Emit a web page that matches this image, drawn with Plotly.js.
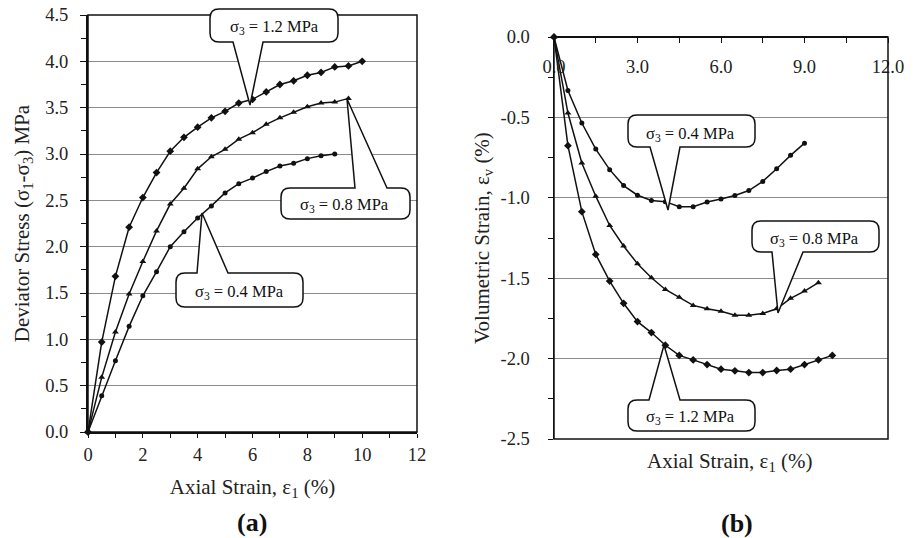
<!DOCTYPE html>
<html>
<head>
<meta charset="utf-8">
<script src="https://cdn.plot.ly/plotly-3.0.1.min.js"></script>
<style>html,body{margin:0;padding:0;background:#fff}#chart{width:916px;height:538px}</style>
</head>
<body>
<div id="chart"></div>
<script>
// ---- data ----
const strain12 = [0,0.5,1,1.5,2,2.5,3,3.5,4,4.5,5,5.5,6,6.5,7,7.5,8,8.5,9,9.5,10];
const strain08 = [0,0.5,1,1.5,2,2.5,3,3.5,4,4.5,5,5.5,6,6.5,7,7.5,8,8.5,9,9.5];
const strain04 = [0,0.5,1,1.5,2,2.5,3,3.5,4,4.5,5,5.5,6,6.5,7,7.5,8,8.5,9];

const dev12 = [0,0.97,1.68,2.21,2.53,2.80,3.03,3.18,3.29,3.39,3.46,3.55,3.59,3.67,3.75,3.79,3.85,3.88,3.94,3.95,4.00];
const dev08 = [0,0.59,1.08,1.49,1.84,2.17,2.46,2.63,2.84,2.97,3.05,3.16,3.23,3.32,3.39,3.45,3.51,3.55,3.56,3.60];
const dev04 = [0,0.39,0.77,1.14,1.47,1.73,2.00,2.16,2.31,2.44,2.58,2.68,2.74,2.81,2.87,2.90,2.95,2.98,3.00];

const vol12 = [0,-0.676,-1.086,-1.352,-1.518,-1.656,-1.77,-1.838,-1.917,-1.98,-2.008,-2.037,-2.066,-2.076,-2.087,-2.087,-2.074,-2.066,-2.037,-2.008,-1.98];
const vol08 = [0,-0.473,-0.784,-0.99,-1.172,-1.30,-1.41,-1.497,-1.57,-1.619,-1.669,-1.69,-1.706,-1.731,-1.731,-1.72,-1.69,-1.625,-1.58,-1.528];
const vol04 = [0,-0.333,-0.535,-0.697,-0.825,-0.924,-0.984,-1.017,-1.024,-1.055,-1.055,-1.026,-1.007,-0.986,-0.955,-0.898,-0.819,-0.736,-0.660];

const devTickVals = [0,0.5,1,1.5,2,2.5,3,3.5,4,4.5];
const devTickText = ['0.0','0.5','1.0','1.5','2.0','2.5','3.0','3.5','4.0','4.5'];
const volTickVals = [-2.5,-2,-1.5,-1,-0.5,0];
const volTickText = ['-2.5','-2.0','-1.5','-1.0','-0.5','0.0'];
const strainTickText = ['0.0','3.0','6.0','9.0','12.0'];
const strainTickVals = [0,3,6,9,12];

const lab12 = 'σ<sub>3</sub> = 1.2 MPa';
const lab08 = 'σ<sub>3</sub> = 0.8 MPa';
const lab04 = 'σ<sub>3</sub> = 0.4 MPa';

// ---- helpers ----
const W = 916, H = 538;
const px = x => x / W;
const py = y => 1 - y / H;
const SERIF = 'Liberation Serif, Times New Roman, serif';

function P(x, y) { return px(x).toFixed(5) + ',' + py(y).toFixed(5); }
function callout(b, side, base, tip, r) {
  const [x0, y0, x1, y1] = b;
  let s = 'M' + P(x0 + r, y0);
  if (side === 'top') s += 'L' + P(base[0], y0) + 'L' + P(tip[0], tip[1]) + 'L' + P(base[1], y0);
  s += 'L' + P(x1 - r, y0) + 'Q' + P(x1, y0) + ',' + P(x1, y0 + r);
  s += 'L' + P(x1, y1 - r) + 'Q' + P(x1, y1) + ',' + P(x1 - r, y1);
  if (side === 'bottom') s += 'L' + P(base[1], y1) + 'L' + P(tip[0], tip[1]) + 'L' + P(base[0], y1);
  s += 'L' + P(x0 + r, y1) + 'Q' + P(x0, y1) + ',' + P(x0, y1 - r);
  s += 'L' + P(x0, y0 + r) + 'Q' + P(x0, y0) + ',' + P(x0 + r, y0) + 'Z';
  return {type: 'path', xref: 'paper', yref: 'paper', path: s,
          line: {color: '#111', width: 1.5}, fillcolor: '#fff', layer: 'above'};
}

function line(x, y, sym, size, xa, ya) {
  return {x: x, y: y, xaxis: xa, yaxis: ya, type: 'scatter', mode: 'lines+markers',
    line: {color: '#111', width: 1.5}, marker: {symbol: sym, size: size, color: '#111'},
    showlegend: false, hoverinfo: 'skip', cliponaxis: false};
}

const traces = [
  line(strain12, dev12, 'diamond', 6, 'x', 'y'),
  line(strain08, dev08, 'triangle-up', 6, 'x', 'y'),
  line(strain04, dev04, 'circle', 5, 'x', 'y'),
  line(strain12, vol12, 'diamond', 6, 'x2', 'y2'),
  line(strain08, vol08, 'triangle-up', 6, 'x2', 'y2'),
  line(strain04, vol04, 'circle', 5, 'x2', 'y2')
];

const tickFont = {family: SERIF, size: 18.5, color: '#222'};
const titleFont = {family: SERIF, size: 21, color: '#222'};

function note(text, x, y, font) {
  return {text: text, x: px(x), y: py(y), xref: 'paper', yref: 'paper', showarrow: false,
          xanchor: 'center', yanchor: 'middle', font: font};
}
const calloutFont = {family: SERIF, size: 16.5, color: '#111'};
const panelFont = {family: SERIF, size: 26, color: '#111'};

const layout = {
  width: W, height: H,
  margin: {l: 0, r: 0, t: 0, b: 0},
  paper_bgcolor: '#fff', plot_bgcolor: '#fff',
  showlegend: false,
  xaxis: {
    domain: [px(88), px(417)], anchor: 'y', range: [0, 12], dtick: 2, tick0: 0,
    ticks: 'outside', ticklen: 4, tickcolor: '#111', tickwidth: 1,
    minor: {dtick: 1, ticks: 'outside', ticklen: 4, tickcolor: '#111', showgrid: false},
    showline: true, linecolor: '#111', linewidth: 1.5,
    showgrid: false, zeroline: false, tickfont: tickFont, ticklabelstandoff: 1,
    title: {text: 'Axial Strain, ε<sub>1</sub> (%)', font: titleFont, standoff: 15}
  },
  yaxis: {
    domain: [py(432), py(15)], anchor: 'x', range: [0, 4.5],
    tickvals: devTickVals, ticktext: devTickText,
    ticks: 'outside', ticklen: 6, tickcolor: '#111',
    minor: {dtick: 0.25, ticks: 'outside', ticklen: 5, tickcolor: '#111', showgrid: false},
    showline: true, linecolor: '#111', linewidth: 2,
    showgrid: true, gridcolor: '#8c8c8c', gridwidth: 1, zeroline: false,
    tickfont: tickFont, ticklabelstandoff: 8,
    title: {text: 'Deviator Stress (σ<sub>1</sub>-σ<sub>3</sub>) MPa', font: titleFont, standoff: 10}
  },
  xaxis2: {
    domain: [px(554), px(888)], anchor: 'free', position: py(37), side: 'bottom',
    range: [0, 12], tickvals: strainTickVals, ticktext: strainTickText,
    ticks: 'outside', ticklen: 5, tickcolor: '#111',
    minor: {dtick: 1.5, ticks: 'outside', ticklen: 5, tickcolor: '#111', showgrid: false},
    showline: true, linecolor: '#111', linewidth: 2,
    showgrid: false, zeroline: false, tickfont: tickFont, ticklabelstandoff: 8
  },
  yaxis2: {
    domain: [py(439), py(37)], anchor: 'x2', range: [-2.5, 0],
    tickvals: volTickVals, ticktext: volTickText,
    ticks: 'outside', ticklen: 5, tickcolor: '#111',
    minor: {dtick: 0.25, ticks: 'outside', ticklen: 5, tickcolor: '#111', showgrid: false},
    showline: true, linecolor: '#111', linewidth: 1.5,
    showgrid: true, gridcolor: '#8c8c8c', gridwidth: 1, zeroline: false,
    tickfont: tickFont, ticklabelstandoff: 14,
    title: {text: 'Volumetric Strain, ε<sub>v</sub> (%)', font: titleFont, standoff: 5}
  },
  shapes: [
    {type: 'rect', xref: 'x domain', yref: 'y domain', x0: 0, x1: 1, y0: 0, y1: 1,
     line: {color: '#111', width: 1.5}, layer: 'above'},
    {type: 'rect', xref: 'x2 domain', yref: 'y2 domain', x0: 0, x1: 1, y0: 0, y1: 1,
     line: {color: '#111', width: 1.5}, layer: 'above'},
    callout([210, 9, 338, 42], 'bottom', [233, 263], [250, 105], 9),
    callout([281, 188, 410, 219], 'top', [355, 387], [347, 99], 9),
    callout([176, 273, 303, 307], 'top', [197, 228], [202, 213], 9),
    callout([628, 115, 755, 147], 'bottom', [650, 680], [668, 210], 9),
    callout([752, 221, 879, 252], 'bottom', [772, 803], [778, 313], 9),
    callout([628, 400, 755, 431], 'top', [649, 680], [664, 345], 9)
  ],
  annotations: [
    note(lab12, 274, 27, calloutFont),
    note(lab08, 344, 205, calloutFont),
    note(lab04, 239, 292, calloutFont),
    note(lab04, 690, 134, calloutFont),
    note(lab08, 814, 239, calloutFont),
    note(lab12, 690, 417, calloutFont),
    note('Axial Strain, ε<sub>1</sub> (%)', 729, 462, titleFont),
    note('<b>(a)</b>', 252, 522, panelFont),
    note('<b>(b)</b>', 737, 523, panelFont)
  ]
};

Plotly.newPlot('chart', traces, layout, {staticPlot: true, displayModeBar: false});
</script>
</body>
</html>
